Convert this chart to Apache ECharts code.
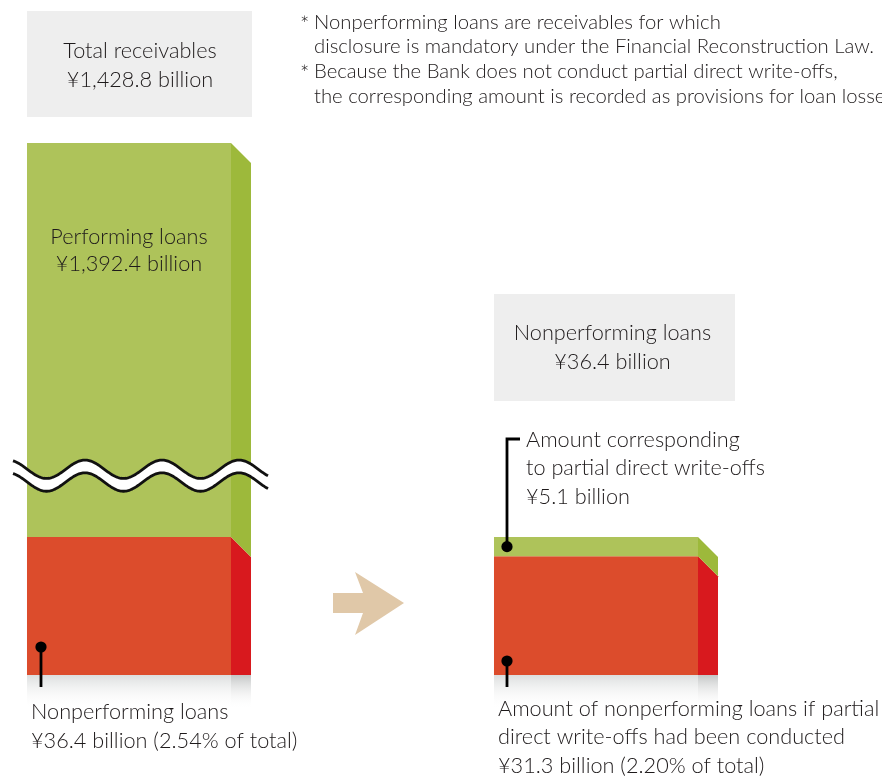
<!DOCTYPE html>
<html><head><meta charset="utf-8">
<script src="https://cdn.jsdelivr.net/npm/echarts@6/dist/echarts.min.js"></script>
<style>html,body{margin:0;padding:0;background:#fff}#c{width:882px;height:777px}</style>
</head><body><div id="c"></div>
<script>
// ---- data ----
const categories = ['Total receivables', '', 'If partial direct write-offs had been conducted'];
const nonperformingValues = [36.4, null, 31.3];   // red segment (billion yen)
const upperValues = [1392.4, null, 5.1];          // green segment (performing / write-off amount)
const totalReceivables = 1428.8;
const axisBreak = { start: 48.6, end: 1345.1, gap: 8 };

const footnoteLines = [
  ['*', 'Nonperforming loans are receivables for which'],
  ['', 'disclosure is mandatory under the Financial Reconstruction Law.'],
  ['*', 'Because the Bank does not conduct partial direct write-offs,'],
  ['', 'the corresponding amount is recorded as provisions for loan losses.']
];
const totalBoxText = ['Total receivables', '¥1,428.8 billion'];
const npBoxText = ['Nonperforming loans', '¥36.4 billion'];
const performingText = ['Performing loans', '¥1,392.4 billion'];
const leftBottomText = ['Nonperforming loans', '¥36.4 billion (2.54% of total)'];
const writeOffText = ['Amount corresponding', 'to partial direct write-offs', '¥5.1 billion'];
const rightBottomText = ['Amount of nonperforming loans if partial', 'direct write-offs had been conducted', '¥31.3 billion (2.20% of total)'];

// ---- style ----
const FONT = 'Lato';
const TXT = '#1e1a1b';
const GREEN = '#aec35a', GREEN_SIDE = '#9db93b';
const RED = '#dc4c2c', RED_SIDE = '#d8191e';

const seriesData = categories.map((c, i) => nonperformingValues[i] == null ? null : [i, nonperformingValues[i], upperValues[i]]).filter(Boolean);

function fade(c) {
  return new echarts.graphic.LinearGradient(0, 0, 0, 1, [
    { offset: 0, color: c }, { offset: 1, color: 'rgba(255,255,255,0)' }]);
}

function renderItem(params, api) {
  const idx = api.value(0), red = api.value(1), green = api.value(2);
  const base = api.coord([idx, 0]);
  const redTop = api.coord([idx, red])[1];
  const top = api.coord([idx, red + green])[1];
  const w = api.size([1, 0])[0] * 0.8737;
  const x0 = base[0] - w / 2, x1 = base[0] + w / 2, by = base[1];
  const d = 20;
  const ch = [];
  ch.push({ type: 'rect', shape: { x: x0, y: by, width: w, height: 34 }, style: { fill: fade('#dcdede') } });
  ch.push({ type: 'rect', shape: { x: x1, y: by, width: d, height: 34 }, style: { fill: fade('#c4c6c6') } });
  ch.push({ type: 'rect', shape: { x: x0, y: redTop, width: w, height: by - redTop }, style: { fill: RED } });
  ch.push({ type: 'polygon', shape: { points: [[x1, redTop], [x1 + d, redTop + d], [x1 + d, by], [x1, by]] }, style: { fill: RED_SIDE } });
  ch.push({ type: 'rect', shape: { x: x0, y: top, width: w, height: redTop - top }, style: { fill: GREEN } });
  ch.push({ type: 'polygon', shape: { points: [[x1, top], [x1 + d, top + d], [x1 + d, redTop + d], [x1, redTop]] }, style: { fill: GREEN_SIDE } });
  const dot = (x, y) => ({ type: 'circle', shape: { cx: x, cy: y, r: 5.6 }, style: { fill: '#000' } });
  const line = (pts) => ({ type: 'polyline', shape: { points: pts }, style: { stroke: '#000', lineWidth: 2.8, fill: null } });
  if (params.dataIndex === 0) {
    const yb0 = api.coord([idx, axisBreak.start])[1], yb1 = api.coord([idx, axisBreak.end])[1];
    const mid = (yb0 + yb1) / 2;
    const xa = x0 - 14, xb = x1 + 37, amp = 9.2, period = 77, phase = x0 - 19;
    const up = [], lo = [];
    for (let x = xa; x <= xb + 0.01; x += 1) {
      const c = Math.cos(2 * Math.PI * (x - phase) / period);
      up.push([x, mid - 6.3 - amp * c]);
      lo.push([x, mid + 6.5 - amp * c]);
    }
    ch.push({ type: 'polygon', shape: { points: up.concat(lo.slice().reverse()) }, style: { fill: '#fff' } });
    ch.push({ type: 'polyline', shape: { points: up }, style: { stroke: '#111', lineWidth: 2.8, fill: null } });
    ch.push({ type: 'polyline', shape: { points: lo }, style: { stroke: '#111', lineWidth: 2.8, fill: null } });
    ch.push(line([[x0 + 14, by - 28], [x0 + 14, by + 12]]));
    ch.push(dot(x0 + 14, by - 28));
  } else {
    const gy = (top + redTop) / 2;
    ch.push(line([[x0 + 26, top - 98], [x0 + 13, top - 98], [x0 + 13, gy]]));
    ch.push(dot(x0 + 13, gy));
    ch.push(line([[x0 + 13, by - 14], [x0 + 13, by + 12]]));
    ch.push(dot(x0 + 13, by - 14));
  }
  return { type: 'group', children: ch };
}

function txt(x, y, lines, align, lh, size) {
  return { type: 'text', x: x, y: y, z: 10, style: {
    text: lines.join('\n'), align: align, verticalAlign: 'middle',
    font: '300 ' + (size || 21.7) + 'px ' + FONT, lineHeight: lh || 28.5, fill: TXT } };
}

const graphic = [
  { type: 'rect', shape: { x: 27, y: 11, width: 225, height: 106 }, style: { fill: '#eeeeee' } },
  txt(140, 65.5, totalBoxText, 'center', 29),
  { type: 'rect', shape: { x: 494, y: 294, width: 241, height: 107 }, style: { fill: '#eeeeee' } },
  txt(612.5, 347.5, npBoxText, 'center', 29),
  txt(129, 250.5, performingText, 'center', 27.5),
  txt(31, 726.5, leftBottomText, 'left', 29),
  txt(526, 468.5, writeOffText, 'left', 28.5),
  txt(498, 737.5, rightBottomText, 'left', 28.5),
  { type: 'polygon', shape: { points: [[333, 593], [363, 593], [355, 572], [404, 603], [355, 635], [363, 613], [333, 613]] }, style: { fill: '#e0c8a8' } }
];
footnoteLines.forEach((l, i) => {
  const y = 22 + i * 24.7;
  if (l[0]) graphic.push(txt(300, y + 3, [l[0]], 'left', 20, 22));
  graphic.push(txt(314, y, [l[1]], 'left', 20, 20.3));
});

const chart = echarts.init(document.getElementById('c'), null, { renderer: 'canvas' });
chart.setOption({
  animation: false,
  backgroundColor: '#fff',
  grid: { left: 12.25, width: 700.5, top: 143, bottom: 102 },
  xAxis: { type: 'category', data: categories, show: false },
  yAxis: {
    type: 'value', min: 0, max: totalReceivables, show: false,
    breaks: [{ start: axisBreak.start, end: axisBreak.end, gap: axisBreak.gap }],
    breakArea: { show: false }
  },
  series: [{ type: 'custom', renderItem: renderItem, data: seriesData, clip: false, encode: { x: 0, y: [1, 2] } }],
  graphic: graphic
});
</script></body></html>
